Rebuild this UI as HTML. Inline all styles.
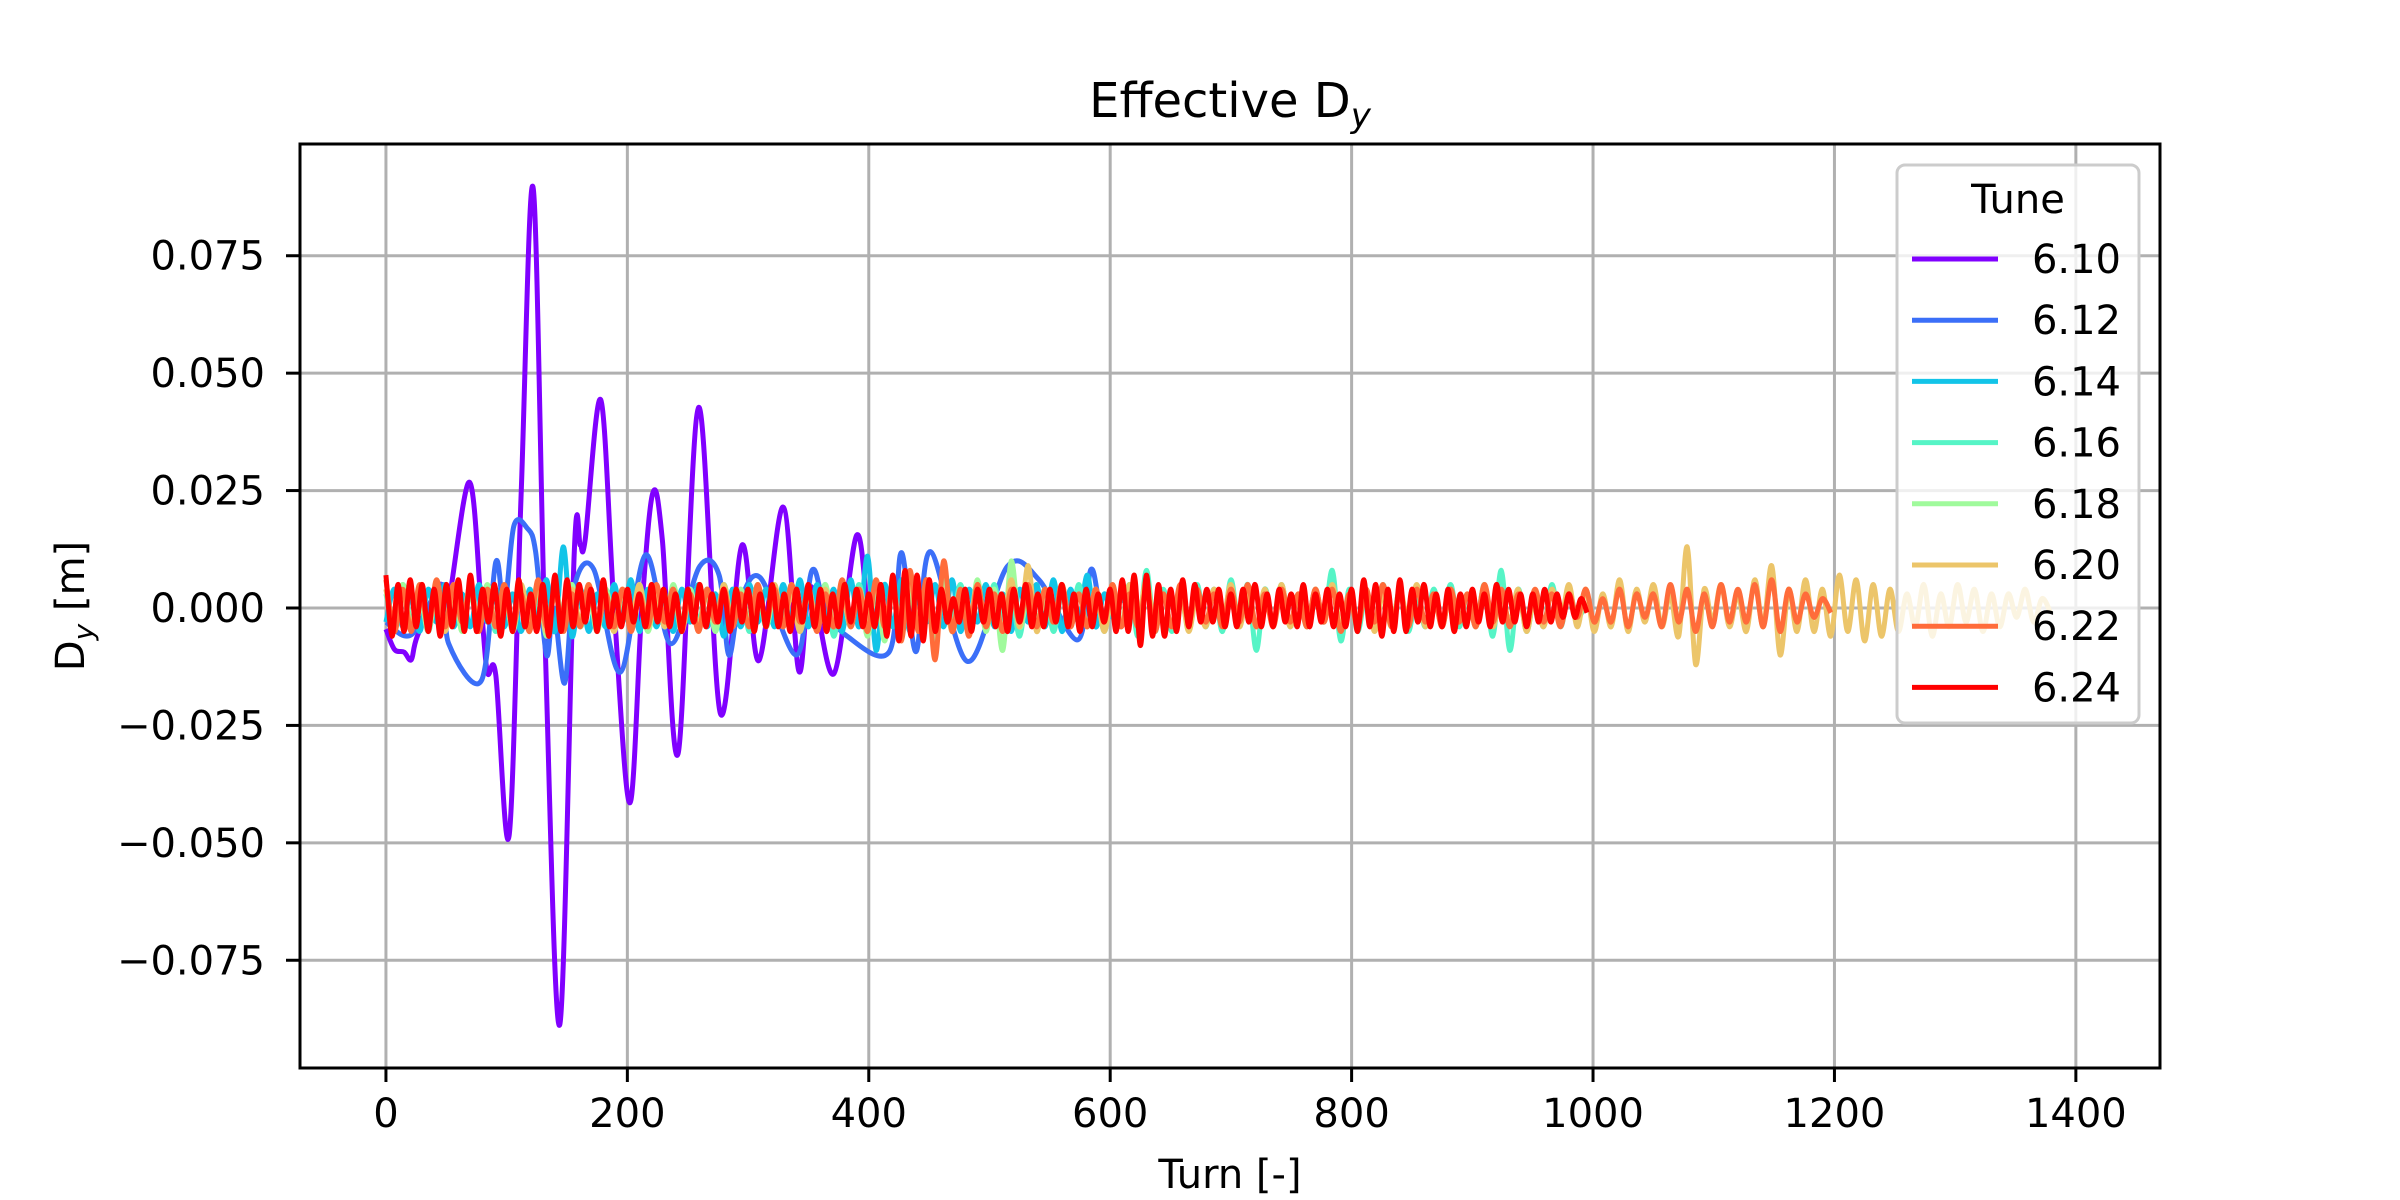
<!DOCTYPE html>
<html><head><meta charset="utf-8"><style>
html,body{margin:0;padding:0;background:#fff;}
svg{display:block;font-family:"DejaVu Sans","Liberation Sans",sans-serif;}
</style></head><body>
<svg id="chart" width="2400" height="1200" viewBox="0 0 2400 1200" xmlns="http://www.w3.org/2000/svg">
<rect width="2400" height="1200" fill="#fff"/>
<g id="grid"></g>
<g id="series" clip-path="url(#clip)"></g>
<defs><clipPath id="clip"><rect x="300" y="144" width="1860" height="924"/></clipPath></defs>
<rect x="300" y="144" width="1860" height="924" fill="none" stroke="#000" stroke-width="3"/>
<g id="ticks"></g>
<text x="1230" y="117" font-size="48" text-anchor="middle">Effective D<tspan font-size="34" font-style="italic" dy="10">y</tspan></text>
<text x="1230" y="1188" font-size="40" text-anchor="middle">Turn [-]</text>
<text transform="translate(84,606) rotate(-90)" font-size="40" text-anchor="middle">D<tspan font-size="28" font-style="italic" dy="9">y</tspan><tspan dy="-9"> [m]</tspan></text>
<g id="legend"></g>
</svg>
<script>
const xTicks=[0,200,400,600,800,1000,1200,1400];
const yTicks=[-0.075,-0.05,-0.025,0,0.025,0.05,0.075];
const yTickLabels=["\u22120.075","\u22120.050","\u22120.025","0.000","0.025","0.050","0.075"];
const tunes=["6.10","6.12","6.14","6.16","6.18","6.20","6.22","6.24"];
const colors=["#8000ff","#3b6ff8","#12c4e8","#56f4c6","#a0fa9c","#ecc56a","#ff6c3a","#ff0000"];
// 6.10 (purple): turns and values [m]
const purpleT=[0,7,15,21,26,45,51,69,79,84,91,102,112,122,132,144,156,161,165,178,189,202,212,221,229,242,259,277,295,309,329,342,352,371,390,400,405];
const purpleV=[-0.0045,-0.0088,-0.0094,-0.011,-0.006,0.005,0,0.0268,0,-0.0137,-0.0143,-0.0485,0.024,0.0894,-0.0088,-0.0887,0.012,0.0134,0.0144,0.0443,0,-0.0415,0,0.0244,0.0144,-0.031,0.0427,-0.0224,0.0134,-0.0112,0.0215,-0.0134,0.0046,-0.014,0.0155,-0.003,0];
// 6.12 (blue)
const blueT=[0,21,47,52,79,91,98,106,117,124,133,139,148,156,172,194,215,236,260,276,284,293,310,340,353,364,382,417,427,439,451,482,515,541,573,584,592,600];
const blueV=[-0.003,-0.0057,0.005,-0.0076,-0.0155,0.0098,0,0.0175,0.017,0.012,-0.010,0,-0.016,0.0046,0.0083,-0.0137,0.0113,-0.0076,0.0089,0.007,-0.010,0.001,0.0065,-0.010,0.008,0,-0.006,-0.0093,0.0118,-0.0093,0.012,-0.0114,0.0089,0.006,-0.0068,0.0082,0,0];
// oscillating series: successive extrema in mm, fixed turn spacing
const cyanMM=[-3,4,-4,3,-5,4,-3,5,-4,3,-4,5,-3,4,-4,3,-5,4,-3,6,-5,13,-6,4,-5,3,-4,5,-3,6,-5,4,-4,3,-5,4,-3,5,-4,3,-6,4,-4,5,-3,4,-4,5,-3,6,-4,5,-3,4,-5,6,-4,11,-9,5,-4,6,-5,4,-3,5,-4,6,-5,4,-3,5,-4,3,-5,4,-3,5,-4,6,-5,4,-3,7,-4,3,-2,2,-1];
const tealMM=[3,-4,5,-3,4,-5,3,-4,5,-3,4,-4,3,-5,4,-3,5,-4,3,-4,4,-3,5,-4,3,-4,4,-5,3,-4,5,-3,4,-4,3,-5,4,-3,4,-4,5,-3,4,-5,3,-4,4,-3,5,-4,3,-4,5,-6,4,-3,5,-4,3,-5,4,-6,5,-4,3,-5,4,-3,5,-4,4,-3,5,-4,3,-6,5,-4,4,-5,3,-4,5,-4,4,-5,3,-4,5,-6,8,-5,4,-5,3,-4,5,-4,4,-5,6,-4,5,-9,4,-3,5,-4,3,-4,4,-3,8,-7,4,-5,3,-4,5,-4,4,-5,3,-4,4,-3,5,-4,3,-4,5,-6,8,-9,4,-5,3,-4,5,-4,3,-2,1];
const greenMM=[4,-3,5,-4,3,-5,4,-3,4,-5,3,-4,5,-4,4,-5,3,-4,5,-6,4,-3,5,-4,3,-5,4,-3,3,-4,4,-5,3,-4,5,-3,4,-4,3,-5,4,-3,4,-3,5,-4,3,-4,4,-5,3,-4,5,-4,3,-4,4,-6,5,-7,4,-5,3,-4,5,-8,6,-5,4,-5,6,-5,4,-9,10,-4,3,-2,1,0];
const yellowMM=[4,-5,3,-4,5,-4,3,-5,4,-3,5,-4,3,-4,3,-4,5,-3,4,-5,3,-4,4,-3,5,-4,3,-5,4,-3,5,-4,3,-4,4,-5,3,-4,4,-3,5,-4,3,-4,4,-3,5,-4,3,-5,4,-3,4,-4,3,-4,4,-3,5,-4,3,-5,6,-4,5,-3,4,-5,3,-4,5,-4,3,-5,6,-4,9,-5,4,-3,5,-4,3,-4,4,-5,3,-4,5,-3,6,-4,3,-4,4,-5,3,-4,4,-3,5,-4,3,-4,4,-3,5,-4,3,-4,4,-3,5,-4,3,-4,4,-5,3,-4,4,-3,5,-4,3,-4,4,-3,3,-4,5,-4,3,-3,4,-5,3,-4,4,-3,5,-4,4,-5,3,-4,6,-5,4,-3,5,-4,3,-6,13,-12,4,-3,5,-4,3,-5,6,-4,9,-10,4,-5,6,-5,4,-6,7,-5,6,-7,5,-6,4,-5,3,-4,5,-6,3,-4,5,-3,4,-5,3,-4,3,-2,4,-3,2,-1];
const orangeMM=[6,-5,4,-5,5,-4,6,-4,5,-3,4,-5,4,-4,5,-4,3,-5,6,-4,4,-5,3,-4,5,-4,3,-4,4,-5,3,-4,5,-3,4,-4,3,-5,4,-3,4,-4,3,-4,5,-3,4,-4,5,-3,4,-5,3,-4,6,-4,4,-5,6,-4,5,-7,8,-5,6,-11,10,-5,4,-6,5,-4,3,-5,4,-3,5,-4,4,-3,5,-4,3,-4,4,-3,5,-4,3,-4,4,-5,3,-4,5,-3,4,-3,3,-4,4,-3,5,-4,3,-4,4,-3,3,-4,4,-3,4,-5,3,-4,4,-3,5,-4,3,-4,4,-3,3,-4,4,-3,3,-4,5,-3,4,-4,3,-3,4,-3,3,-4,3,-2,4,-3,2,-3,4,-4,3,-2,3,-4,5,-3,4,-5,3,-4,5,-3,4,-3,5,-4,6,-5,4,-3,3,-2,2,-1];
const redMM=[7,-6,5,-5,6,-4,5,-5,4,-6,5,-4,6,-5,7,-5,4,-3,5,-6,4,-5,6,-4,3,-5,5,-6,7,-5,6,-4,5,-3,4,-5,6,-4,3,-4,4,-3,3,-4,5,-3,4,-4,3,-5,4,-3,5,-4,3,-3,4,-5,4,-3,4,-5,3,-4,5,-4,3,-5,4,-3,5,-4,4,-5,3,-4,5,-3,4,-4,3,-4,5,-6,7,-7,8,-6,7,-7,6,-5,4,-3,2,-3,4,-5,4,-3,4,-4,3,-5,4,-3,5,-4,3,-4,4,-3,5,-4,3,-5,4,-4,3,-3,4,-5,6,-5,7,-8,7,-6,5,-6,4,-5,6,-4,5,-3,4,-3,4,-4,3,-4,4,-3,5,-4,3,-4,4,-3,3,-4,5,-4,3,-3,4,-4,3,-4,4,-5,6,-4,5,-6,4,-5,6,-5,4,-3,5,-4,3,-4,4,-5,3,-4,4,-3,3,-4,5,-3,4,-3,3,-4,3,-3,4,-3,3,-2,3,-2,2,-1];
const oscSeries=[[cyanMM,7],[tealMM,7],[greenMM,7],[yellowMM,7],[orangeMM,7],[redMM,5]];

const NS="http://www.w3.org/2000/svg";
const xmin=-71.2,xmax=1469.7,ymin=-0.09794,ymax=0.09879;
const X=t=>300+(t-xmin)/(xmax-xmin)*1860;
const Y=v=>1068-(v-ymin)/(ymax-ymin)*924;
function mk(tag,attrs,parent){const e=document.createElementNS(NS,tag);for(const k in attrs)e.setAttribute(k,attrs[k]);parent.appendChild(e);return e;}
const grid=document.getElementById('grid'),ticks=document.getElementById('ticks');
xTicks.forEach(t=>{
  const gl=mk('line',{x1:X(t),x2:X(t),y1:144,y2:1068,stroke:'#b0b0b0','stroke-width':3},grid);
  
  
  const tk=mk('line',{x1:X(t),x2:X(t),y1:1068,y2:1082,stroke:'#000','stroke-width':3},ticks);
  
  
  const lb=mk('text',{x:X(t),y:1127,'font-size':40,'text-anchor':'middle'},ticks);
  lb.textContent=String(t);
  
  
});
yTicks.forEach((v,i)=>{
  const gl=mk('line',{x1:300,x2:2160,y1:Y(v),y2:Y(v),stroke:'#b0b0b0','stroke-width':3},grid);
  
  
  const tk=mk('line',{x1:286,x2:300,y1:Y(v),y2:Y(v),stroke:'#000','stroke-width':3},ticks);
  
  
  const lb=mk('text',{x:265,y:Y(v)+14,'font-size':40,'text-anchor':'end'},ticks);
  lb.textContent=yTickLabels[i];
  
  
});
function smoothPath(pts){
  let d='M'+pts[0][0].toFixed(1)+','+pts[0][1].toFixed(1);
  for(let i=0;i<pts.length-1;i++){
    const p0=pts[Math.max(0,i-1)],p1=pts[i],p2=pts[i+1],p3=pts[Math.min(pts.length-1,i+2)];
    const c1x=p1[0]+(p2[0]-p0[0])/6,c1y=p1[1]+(p2[1]-p0[1])/6;
    const c2x=p2[0]-(p3[0]-p1[0])/6,c2y=p2[1]-(p3[1]-p1[1])/6;
    d+='C'+c1x.toFixed(1)+','+c1y.toFixed(1)+' '+c2x.toFixed(1)+','+c2y.toFixed(1)+' '+p2[0].toFixed(1)+','+p2[1].toFixed(1);
  }
  return d;
}
const sg=document.getElementById('series');
function drawSeries(pts,idx){
  const p=mk('path',{d:smoothPath(pts),fill:'none',stroke:colors[idx],'stroke-width':5,'stroke-linejoin':'round'},sg);
  
  
}
drawSeries(purpleT.map((t,i)=>[X(t),Y(purpleV[i])]),0);
drawSeries(blueT.map((t,i)=>[X(t),Y(blueV[i])]),1);
oscSeries.forEach((s,k)=>{
  const arr=s[0],step=s[1];
  drawSeries(arr.map((v,i)=>[X(i*step),Y(v*0.001)]),k+2);
});
// legend
const lg=document.getElementById('legend');
const box=mk('rect',{x:1897,y:165,width:242,height:558,rx:8,fill:'#fff','fill-opacity':0.8,stroke:'#cccccc','stroke-width':3},lg);


const lt=mk('text',{x:2018,y:213,'font-size':40,'text-anchor':'middle'},lg);
lt.textContent='Tune';


tunes.forEach((t,i)=>{
  const y=259+i*61.2;
  const ln=mk('line',{x1:1912,x2:1998,y1:y,y2:y,stroke:colors[i],'stroke-width':5},lg);
  
  
  const tx=mk('text',{x:2121,y:y+14,'font-size':40,'text-anchor':'end'},lg);
  tx.textContent=t;
  
  
});
</script>
</body></html>
